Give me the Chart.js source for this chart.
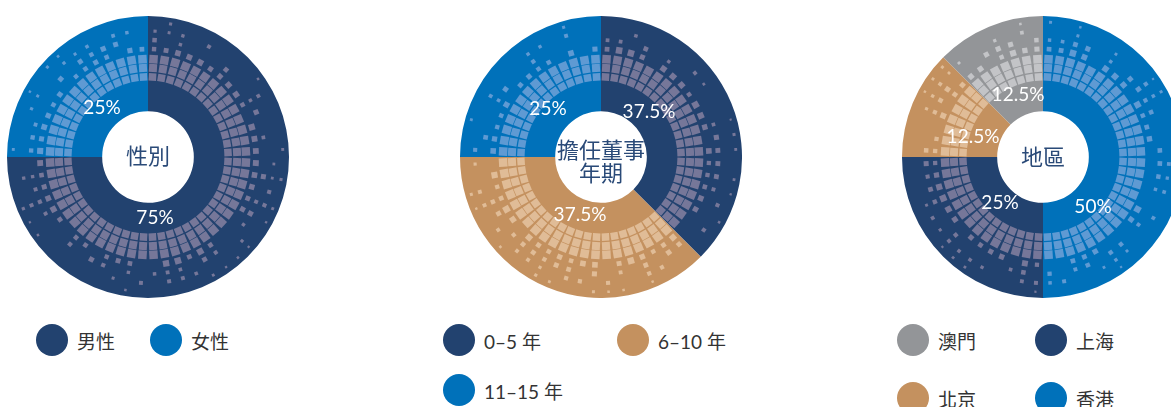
<!DOCTYPE html>
<html>
<head>
<meta charset="utf-8">
<script src="https://cdn.jsdelivr.net/npm/chart.js@4/dist/chart.umd.min.js"></script>
<style>
  body { margin: 0; width: 1171px; height: 407px; overflow: hidden; background: #fff;
         font-family: "Lato", "Noto Sans CJK TC", sans-serif; }
  canvas { position: absolute; }
  .legend { position: absolute; display: grid; }
  .item { display: flex; align-items: center; height: 32px; font-size: 19px; color: #333; white-space: nowrap; }
  .dot { width: 32px; height: 32px; border-radius: 50%; flex: none; }
</style>
</head>
<body>
<canvas id="gender" width="282" height="282" style="left:7px;top:16px"></canvas>
<canvas id="tenure" width="282" height="282" style="left:460px;top:16px"></canvas>
<canvas id="region" width="282" height="282" style="left:902px;top:16px"></canvas>
<div class="legend" id="legend-gender" style="left:36px;top:324px;grid-template-columns:114px 114px"></div>
<div class="legend" id="legend-tenure" style="left:443px;top:324px;grid-template-columns:174px 174px;row-gap:18px"></div>
<div class="legend" id="legend-region" style="left:897px;top:324px;grid-template-columns:138px 138px;row-gap:26px"></div>
<script>
// data
const genderLabels = ['男性', '女性'];
const genderValues = [75, 25];

const tenureLabels = ['0–5 年', '6–10 年', '11–15 年'];
const tenureValues = [37.5, 37.5, 25];

const regionLabels = ['香港', '上海', '北京', '澳門'];
const regionValues = [50, 25, 12.5, 12.5];
const regionLegendOrder = ['澳門', '上海', '北京', '香港'];

// colours
const navy = '#22426f', blue = '#0071ba', tan = '#c4915f', grey = '#939598';
const dotColour = { [navy]: '#767799', [blue]: '#5f9ad3', [tan]: '#e0bc97', [grey]: '#c3c4c7' };

// rings of small squares (fraction of outer radius, square px, how many stay)
const rings = [
  { r: 0.568, s: 7.5, keep: 1 },
  { r: 0.632, s: 8.0, keep: 1 },
  { r: 0.695, s: 8.5, keep: 1 },
  { r: 0.766, s: 6.5, keep: 0.8 },
  { r: 0.830, s: 5.2, keep: 0.58 },
  { r: 0.894, s: 4.2, keep: 0.45 },
  { r: 0.957, s: 3.2, keep: 0.3 }
];
const columns = 56;

function hash(a, b, c) {
  const s = Math.sin(a * 127.1 + b * 311.7 + c * 74.7) * 43758.5453;
  return s - Math.floor(s);
}

const decoPlugin = {
  id: 'deco',
  afterDatasetsDraw(chart, args, opts) {
    const ctx = chart.ctx;
    const meta = chart.getDatasetMeta(0);
    const colours = chart.data.datasets[0].backgroundColor;
    const total = chart.data.datasets[0].data.reduce((a, b) => a + b, 0);
    let cx = 0, cy = 0;
    meta.data.forEach((arc, i) => {
      const p = arc.getProps(['x', 'y', 'startAngle', 'endAngle', 'innerRadius', 'outerRadius'], true);
      cx = p.x; cy = p.y;
      ctx.save();
      ctx.beginPath();
      ctx.arc(p.x, p.y, p.outerRadius, p.startAngle, p.endAngle);
      ctx.arc(p.x, p.y, p.innerRadius, p.endAngle, p.startAngle, true);
      ctx.closePath();
      ctx.clip();
      ctx.fillStyle = dotColour[colours[i]];
      const step = Math.PI * 2 / columns;
      rings.forEach((ring, ri) => {
        const rad = p.outerRadius * ring.r;
        for (let k = 0; k < columns; k++) {
          const a = -Math.PI / 2 + (k + 0.5) * step;
          if (a < p.startAngle - step || a > p.endAngle + step) continue;
          const h = hash(opts.seed, ri, k);
          if (h > ring.keep) continue;
          let s = ring.s;
          if (ring.keep < 1) s *= 0.65 + 0.35 * hash(k, opts.seed, ri + 9);
          ctx.save();
          ctx.translate(p.x + Math.cos(a) * rad, p.y + Math.sin(a) * rad);
          ctx.rotate(a);
          ctx.fillRect(-s / 2, -s / 2, s, s);
          ctx.restore();
        }
      });
      ctx.restore();

      // percentage label
      const off = opts.labelOffsets[i];
      const pct = chart.data.datasets[0].data[i] / total * 100;
      ctx.save();
      ctx.fillStyle = '#fff';
      ctx.font = '19px Lato, "Noto Sans CJK TC"';
      ctx.textAlign = 'center';
      ctx.textBaseline = 'middle';
      ctx.fillText(pct + '%', p.x + off[0], p.y + off[1]);
      ctx.restore();
    });

    // centre title
    ctx.save();
    ctx.fillStyle = '#2a4a78';
    ctx.font = '22px "Noto Sans CJK TC"';
    ctx.textAlign = 'center';
    ctx.textBaseline = 'middle';
    opts.title.forEach((line, j) => {
      ctx.fillText(line, cx, cy + opts.titleY[j]);
    });
    ctx.restore();
  }
};

function makeChart(id, labels, values, colours, deco) {
  return new Chart(document.getElementById(id), {
    type: 'doughnut',
    data: {
      labels: labels,
      datasets: [{
        data: values,
        backgroundColor: colours,
        borderWidth: 0,
        hoverOffset: 0
      }]
    },
    options: {
      responsive: false,
      devicePixelRatio: 1,
      animation: false,
      cutout: '32.5%',
      layout: { padding: 0 },
      plugins: {
        legend: { display: false },
        tooltip: { enabled: false },
        deco: deco
      }
    },
    plugins: [decoPlugin]
  });
}

makeChart('gender', genderLabels, genderValues, [navy, blue], {
  seed: 1, title: ['性別'], titleY: [-1],
  labelOffsets: [[7, 61], [-46, -49]]
});
makeChart('tenure', tenureLabels, tenureValues, [navy, tan, blue], {
  seed: 2, title: ['擔任董事', '年期'], titleY: [-7, 16],
  labelOffsets: [[48, -45], [-21, 58], [-53, -48]]
});
makeChart('region', regionLabels, regionValues, [blue, navy, tan, grey], {
  seed: 3, title: ['地區'], titleY: [0],
  labelOffsets: [[50, 50], [-43, 46], [-70, -20], [-25, -62]]
});

// legends
function makeLegend(id, labels, colourOf) {
  const box = document.getElementById(id);
  labels.forEach(l => {
    const item = document.createElement('div');
    item.className = 'item';
    item.innerHTML = '<span class="dot" style="background:' + colourOf(l) + '"></span><span style="margin-left:9px">' + l + '</span>';
    box.appendChild(item);
  });
}
makeLegend('legend-gender', genderLabels, l => [navy, blue][genderLabels.indexOf(l)]);
makeLegend('legend-tenure', tenureLabels, l => [navy, tan, blue][tenureLabels.indexOf(l)]);
makeLegend('legend-region', regionLegendOrder, l => [blue, navy, tan, grey][regionLabels.indexOf(l)]);
</script>
</body>
</html>
